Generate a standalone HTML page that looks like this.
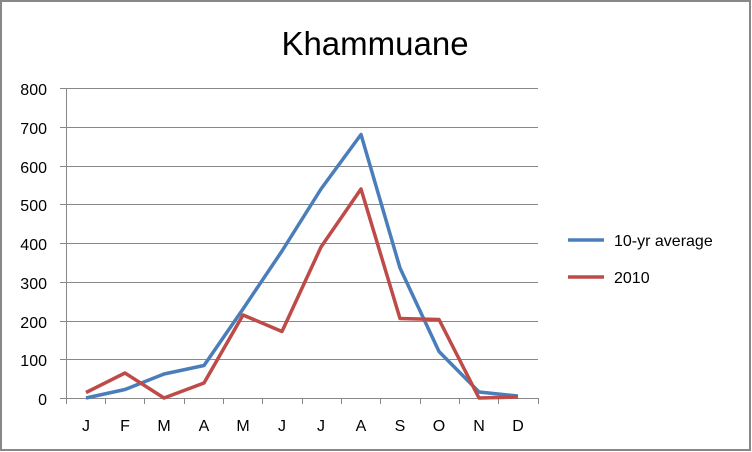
<!DOCTYPE html><html><head><style>body{margin:0;background:#fff}svg{display:block}text{font-family:"Liberation Sans",sans-serif;fill:#000}</style></head><body>
<svg width="752" height="452" viewBox="0 0 752 452">
<rect x="1" y="1" width="749" height="449" fill="#fff" stroke="#888" stroke-width="2"/>
<text x="375" y="55" font-size="33" text-anchor="middle">Khammuane</text>
<g stroke="#888" stroke-width="1">
<line x1="66" y1="88.5" x2="538" y2="88.5"/><line x1="66" y1="127.5" x2="538" y2="127.5"/><line x1="66" y1="166.5" x2="538" y2="166.5"/><line x1="66" y1="204.5" x2="538" y2="204.5"/><line x1="66" y1="243.5" x2="538" y2="243.5"/><line x1="66" y1="282.5" x2="538" y2="282.5"/><line x1="66" y1="321.5" x2="538" y2="321.5"/><line x1="66" y1="359.5" x2="538" y2="359.5"/><line x1="60" y1="398.5" x2="538" y2="398.5"/>
<line x1="66.5" y1="88" x2="66.5" y2="404"/>
<line x1="60" y1="88.5" x2="66" y2="88.5"/><line x1="60" y1="127.5" x2="66" y2="127.5"/><line x1="60" y1="166.5" x2="66" y2="166.5"/><line x1="60" y1="204.5" x2="66" y2="204.5"/><line x1="60" y1="243.5" x2="66" y2="243.5"/><line x1="60" y1="282.5" x2="66" y2="282.5"/><line x1="60" y1="321.5" x2="66" y2="321.5"/><line x1="60" y1="359.5" x2="66" y2="359.5"/>
<line x1="105.5" y1="398" x2="105.5" y2="404"/><line x1="144.5" y1="398" x2="144.5" y2="404"/><line x1="184.5" y1="398" x2="184.5" y2="404"/><line x1="223.5" y1="398" x2="223.5" y2="404"/><line x1="262.5" y1="398" x2="262.5" y2="404"/><line x1="302.5" y1="398" x2="302.5" y2="404"/><line x1="341.5" y1="398" x2="341.5" y2="404"/><line x1="380.5" y1="398" x2="380.5" y2="404"/><line x1="420.5" y1="398" x2="420.5" y2="404"/><line x1="459.5" y1="398" x2="459.5" y2="404"/><line x1="498.5" y1="398" x2="498.5" y2="404"/><line x1="538.5" y1="398" x2="538.5" y2="404"/>
</g>
<g font-size="16" text-anchor="end">
<text x="47" y="95" text-anchor="end">800</text><text x="47" y="134" text-anchor="end">700</text><text x="47" y="173" text-anchor="end">600</text><text x="47" y="211" text-anchor="end">500</text><text x="47" y="250" text-anchor="end">400</text><text x="47" y="289" text-anchor="end">300</text><text x="47" y="328" text-anchor="end">200</text><text x="47" y="366" text-anchor="end">100</text><text x="47" y="405" text-anchor="end">0</text>
</g>
<g font-size="16" text-anchor="middle">
<text x="86" y="431">J</text><text x="125" y="431">F</text><text x="164" y="431">M</text><text x="204" y="431">A</text><text x="243" y="431">M</text><text x="282" y="431">J</text><text x="321" y="431">J</text><text x="361" y="431">A</text><text x="400" y="431">S</text><text x="439" y="431">O</text><text x="479" y="431">N</text><text x="518" y="431">D</text>
</g>
<polyline fill="none" stroke="#4a7ebb" stroke-width="3.5" stroke-linejoin="round" points="86,398 125,389.5 164,374 204,365.5 243,309 282,251 321,189 361,134.5 400,268 439,351.5 479,392 518,396"/>
<polyline fill="none" stroke="#be4b48" stroke-width="3.5" stroke-linejoin="round" points="86,392.5 125,373 164,398 204,383 243,315 282,331.5 321,247 361,189 400,318.5 439,319.5 479,398 518,397"/>
<line x1="568" y1="240" x2="604" y2="240" stroke="#4a7ebb" stroke-width="3.5"/>
<line x1="568" y1="277" x2="604" y2="277" stroke="#be4b48" stroke-width="3.5"/>
<text x="614" y="246" font-size="16">10-yr average</text>
<text x="614" y="283" font-size="16">2010</text>
</svg></body></html>
